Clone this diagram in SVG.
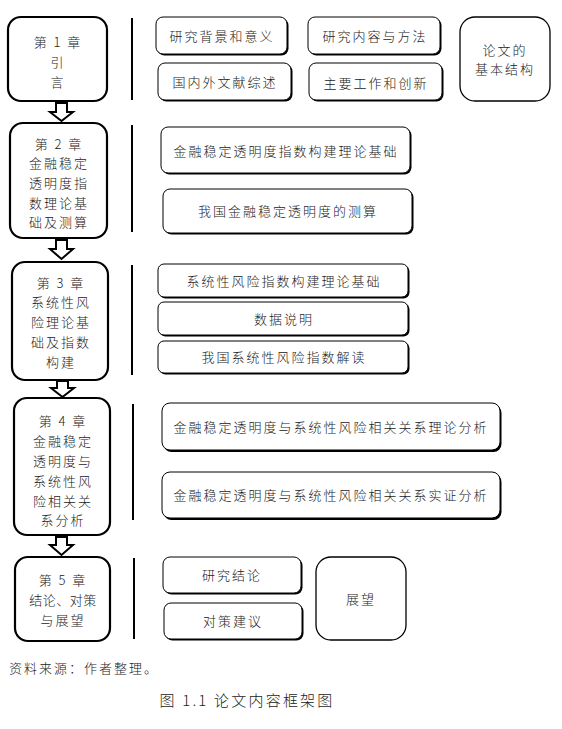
<svg xmlns="http://www.w3.org/2000/svg" width="562" height="729" viewBox="0 0 562 729">
<style>
text{font-family:"Noto Sans CJK SC","Liberation Serif",sans-serif;font-size:13px;fill:#222;text-anchor:middle;letter-spacing:2px;font-weight:300}
.ch{fill:#fff;stroke:#000;stroke-width:2.2}
.bx{fill:#fff;stroke:#000;stroke-width:1}
.sh{fill:#000}
.big{fill:#fff;stroke:#000;stroke-width:1.3}
.sep{stroke:#000;stroke-width:2}
.arr{fill:#fff;stroke:#000;stroke-width:2;stroke-linejoin:miter}
.lt{text-anchor:start}
</style>
<g id="connectors">
<path class="arr" d="M56,103 H67 V112 H73 L61.5,121 L50,112 H56 Z"/>
<path class="arr" d="M56,240 H67 V249 H73 L61.5,259 L50,249 H56 Z"/>
<path class="arr" d="M57,381 H68 V388 H74 L62.5,397 L51,388 H57 Z"/>
<path class="arr" d="M56,537 H67 V545 H73 L61.5,555 L50,545 H56 Z"/>
<line class="sep" x1="132" y1="18" x2="132" y2="100"/>
<line class="sep" x1="132" y1="125" x2="132" y2="232"/>
<line class="sep" x1="132" y1="265" x2="132" y2="375"/>
<line class="sep" x1="133" y1="404" x2="133" y2="520"/>
<line class="sep" x1="134" y1="558" x2="134" y2="639"/>
</g>
<g id="ch1">
<rect class="ch" x="8" y="17" width="99" height="84" rx="13"/>
<text x="58" y="47">第 1 章</text>
<text x="58" y="67">引</text>
<text x="58" y="87">言</text>
</g>
<g id="ch2">
<rect class="ch" x="10" y="123" width="97" height="115" rx="13"/>
<text x="59" y="149">第 2 章</text>
<text x="59" y="168">金融稳定</text>
<text x="59" y="188">透明度指</text>
<text x="59" y="208">数理论基</text>
<text x="59" y="227">础及测算</text>
</g>
<g id="ch3">
<rect class="ch" x="12" y="262" width="96" height="118" rx="13"/>
<text x="61" y="288">第 3 章</text>
<text x="61" y="307">系统性风</text>
<text x="61" y="327">险理论基</text>
<text x="61" y="347">础及指数</text>
<text x="61" y="367">构建</text>
</g>
<g id="ch4">
<rect class="ch" x="14" y="398" width="96" height="137" rx="13"/>
<text x="63" y="426">第 4 章</text>
<text x="63" y="446">金融稳定</text>
<text x="63" y="466">透明度与</text>
<text x="63" y="486">系统性风</text>
<text x="63" y="506">险相关关</text>
<text x="63" y="525">系分析</text>
</g>
<g id="ch5">
<rect class="ch" x="15" y="557" width="95" height="84" rx="13"/>
<text x="63" y="585">第 5 章</text>
<text x="63" y="605" style="letter-spacing:0.5px">结论、对策</text>
<text x="63" y="625">与展望</text>
</g>
<g id="n1a">
<rect class="sh" x="157.5" y="18.5" width="131" height="37" rx="7"/>
<rect class="bx" x="156" y="17" width="131" height="37" rx="7"/>
<text x="222" y="41">研究背景和意义</text>
</g>
<g id="n1b">
<rect class="sh" x="159.5" y="64.5" width="133" height="37" rx="7"/>
<rect class="bx" x="158" y="63" width="133" height="37" rx="7"/>
<text x="225" y="87">国内外文献综述</text>
</g>
<g id="n1c">
<rect class="sh" x="309.5" y="18.5" width="132" height="37" rx="7"/>
<rect class="bx" x="308" y="17" width="132" height="37" rx="7"/>
<text x="375" y="41">研究内容与方法</text>
</g>
<g id="n1d">
<rect class="sh" x="310.5" y="64.5" width="133" height="37" rx="7"/>
<rect class="bx" x="309" y="63" width="133" height="37" rx="7"/>
<text x="376" y="88">主要工作和创新</text>
</g>
<g id="n1e">
<rect class="big" x="460" y="17" width="90" height="84" rx="15"/>
<text x="505" y="55">论文的</text>
<text x="505" y="74">基本结构</text>
</g>
<g id="n2a">
<rect class="sh" x="162.5" y="128.5" width="249" height="46" rx="7"/>
<rect class="bx" x="161" y="127" width="249" height="46" rx="7"/>
<text x="286" y="156">金融稳定透明度指数构建理论基础</text>
</g>
<g id="n2b">
<rect class="sh" x="164.5" y="190.5" width="249" height="44" rx="7"/>
<rect class="bx" x="163" y="189" width="249" height="44" rx="7"/>
<text x="288" y="216">我国金融稳定透明度的测算</text>
</g>
<g id="n3a">
<rect class="sh" x="159.5" y="265.5" width="250" height="33" rx="6"/>
<rect class="bx" x="158" y="264" width="250" height="33" rx="6"/>
<text x="284" y="286">系统性风险指数构建理论基础</text>
</g>
<g id="n3b">
<rect class="sh" x="159.5" y="303.5" width="250" height="33" rx="6"/>
<rect class="bx" x="158" y="302" width="250" height="33" rx="6"/>
<text x="284" y="324">数据说明</text>
</g>
<g id="n3c">
<rect class="sh" x="159.5" y="342.5" width="250" height="32" rx="6"/>
<rect class="bx" x="158" y="341" width="250" height="32" rx="6"/>
<text x="284" y="362">我国系统性风险指数解读</text>
</g>
<g id="n4a">
<rect class="sh" x="163.5" y="405" width="338" height="47" rx="8"/>
<rect class="bx" x="162" y="403" width="338" height="47" rx="8"/>
<text x="331" y="432">金融稳定透明度与系统性风险相关关系理论分析</text>
</g>
<g id="n4b">
<rect class="sh" x="163.5" y="474" width="338" height="46" rx="8"/>
<rect class="bx" x="162" y="472" width="338" height="46" rx="8"/>
<text x="331" y="500">金融稳定透明度与系统性风险相关关系实证分析</text>
</g>
<g id="n5a">
<rect class="sh" x="164.5" y="558.5" width="138" height="36" rx="7"/>
<rect class="bx" x="163" y="557" width="138" height="36" rx="7"/>
<text x="232" y="580">研究结论</text>
</g>
<g id="n5b">
<rect class="sh" x="165.5" y="604.5" width="138" height="36" rx="7"/>
<rect class="bx" x="164" y="603" width="138" height="36" rx="7"/>
<text x="233" y="626">对策建议</text>
</g>
<g id="n5c">
<rect class="big" x="316" y="557" width="90" height="83" rx="15"/>
<text x="361" y="604">展望</text>
</g>
<g id="footer">
<text class="lt" x="9" y="673">资料来源：作者整理。</text>
<text x="247" y="706" style="font-size:15px;letter-spacing:2.2px">图 1.1 论文内容框架图</text>
</g>
</svg>
